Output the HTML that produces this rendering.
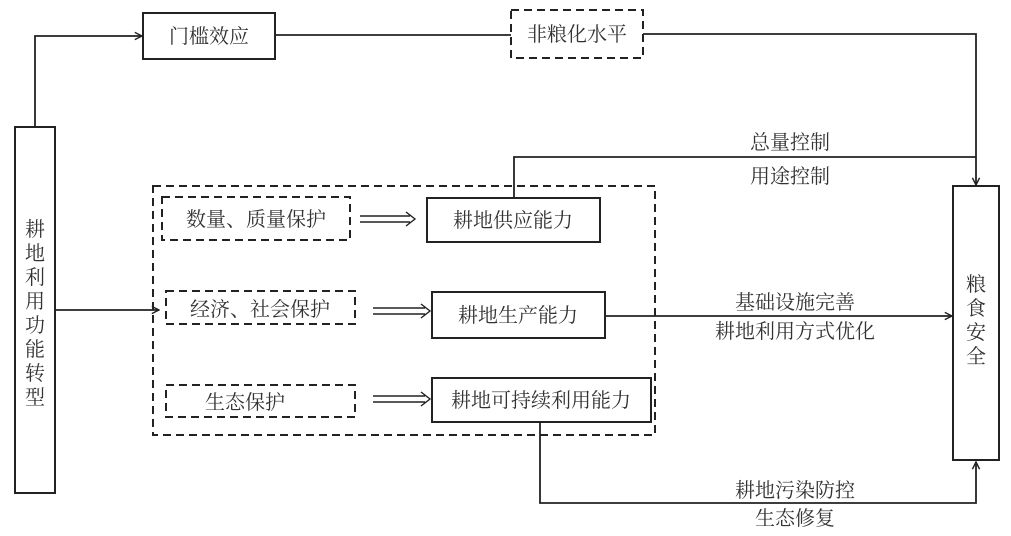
<!DOCTYPE html>
<html><head><meta charset="utf-8"><style>
body{margin:0;background:#fff;}
svg text{font-family:"Liberation Serif","Noto Serif CJK SC","Noto Sans CJK SC",serif;font-size:20px;fill:#333;}
</style></head><body>
<svg width="1011" height="531" viewBox="0 0 1011 531" xmlns="http://www.w3.org/2000/svg">
<defs>
<marker id="a" viewBox="0 0 10 10" refX="9" refY="5" markerWidth="9" markerHeight="9" orient="auto" markerUnits="userSpaceOnUse">
<path d="M1,1 L9,5 L1,9" fill="none" stroke="#222" stroke-width="1.6"/></marker>
</defs>
<g fill="none" stroke="#222" stroke-width="2">
<rect x="15" y="127" width="40" height="366"/>
<rect x="143" y="13" width="132" height="46"/>
<rect x="953" y="186" width="46" height="274"/>
<rect x="427" y="198" width="173" height="44"/>
<rect x="432" y="292" width="173" height="46"/>
<rect x="432" y="378" width="219" height="44"/>
</g>
<g fill="none" stroke="#222" stroke-width="2" stroke-dasharray="8,5">
<rect x="511" y="10" width="132" height="48"/>
<rect x="153" y="186" width="502" height="249"/>
<rect x="162" y="197" width="188" height="43"/>
<rect x="166" y="291" width="189" height="33"/>
<rect x="166" y="385" width="189" height="32"/>
</g>
<g fill="none" stroke="#222" stroke-width="1.8">
<path d="M35,127 V36 H142" marker-end="url(#a)"/>
<path d="M275,35 H511"/>
<path d="M643,34 H976 V185" marker-end="url(#a)"/>
<path d="M514,198 V157 H976"/>
<path d="M55,310 H159" marker-end="url(#a)"/>
<path d="M605,316 H952" marker-end="url(#a)"/>
<path d="M540,422 V503 H976 V462" marker-end="url(#a)"/>
</g>
<g fill="none" stroke="#222" stroke-width="1.4">
<path d="M360,216 H410 M360,222 H410 M406,212 L415,219 L406,226"/>
<path d="M373,308 H425 M373,314 H425 M421,304 L430,311 L421,318"/>
<path d="M373,396 H425 M373,402 H425 M421,392 L430,399 L421,406"/>
</g>
<g text-anchor="middle">
<text x="209" y="43">门槛效应</text>
<text x="577" y="41">非粮化水平</text>
<text x="256" y="226">数量、质量保护</text>
<text x="513" y="227">耕地供应能力</text>
<text x="260" y="316">经济、社会保护</text>
<text x="518" y="322">耕地生产能力</text>
<text x="245" y="409">生态保护</text>
<text x="541" y="407">耕地可持续利用能力</text>
<text x="790" y="149">总量控制</text>
<text x="790" y="183">用途控制</text>
<text x="795" y="309">基础设施完善</text>
<text x="795" y="338">耕地利用方式优化</text>
<text x="795" y="497">耕地污染防控</text>
<text x="795" y="525">生态修复</text>
</g>
<g text-anchor="middle">
<text x="35" y="236">耕</text><text x="35" y="260">地</text><text x="35" y="284">利</text><text x="35" y="308">用</text><text x="35" y="332">功</text><text x="35" y="356">能</text><text x="35" y="380">转</text><text x="35" y="404">型</text>
<text x="976" y="291">粮</text><text x="976" y="315">食</text><text x="976" y="339">安</text><text x="976" y="363">全</text>
</g>
</svg>
</body></html>
